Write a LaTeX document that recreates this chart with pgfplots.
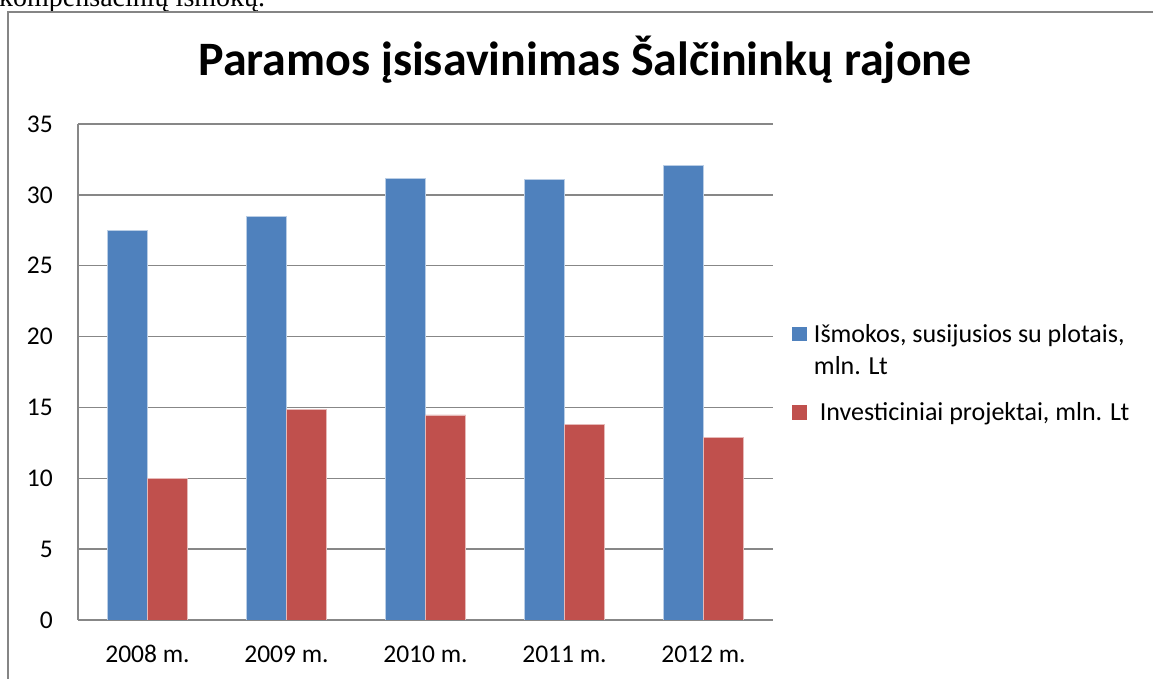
\documentclass[border=0pt]{standalone}
\usepackage{fontspec}
\setmainfont{Carlito}
\newfontfamily\timesf{Liberation Serif}
\usepackage{pgfplots}
\pgfplotsset{compat=1.18}
\definecolor{xblue}{HTML}{4F81BD}
\definecolor{xred}{HTML}{C0504D}
\definecolor{xblueedge}{HTML}{B9CDE5}
\definecolor{xrededge}{HTML}{E6B9B8}
\definecolor{xgrid}{HTML}{878787}
\definecolor{xframe}{HTML}{858585}
\begin{document}
\begin{tikzpicture}
\useasboundingbox (0,0) rectangle (1153pt,679pt);
\clip (0,0) rectangle (1153pt,679pt);
\node[anchor=base west, inner sep=0pt, font=\timesf\fontsize{28}{32}\selectfont] at (-1pt,672pt) {kompensacinių išmokų.};
\draw[xframe, line width=2pt] (8pt,-5pt) -- (8pt,667pt) -- (1160pt,667pt);
\node[anchor=base, inner sep=0pt, font=\bfseries\fontsize{48}{56}\selectfont] at (585pt,603pt) {Paramos įsisavinimas Šalčininkų rajone};
\begin{axis}[
  at={(78pt,59pt)}, anchor=south west,
  scale only axis, width=695pt, height=496pt,
  xmin=-0.5, xmax=4.5, ymin=0, ymax=35,
  ytick={0,5,...,35},
  xtick={0,1,2,3,4},
  xticklabels={2008 m.,2009 m.,2010 m.,2011 m.,2012 m.},
  ybar=0pt, bar width=40pt,
  axis x line*=bottom, axis y line*=left,
  axis line style={draw=xgrid, line width=1.3pt, -},
  major tick length=0pt,
  ymajorgrids, major grid style={draw=xgrid, line width=1.3pt},
  /pgf/number format/assume math mode=true,
  tick label style={font=\fontsize{25.5}{30}\selectfont, inner sep=0pt},
  yticklabel style={anchor=east, xshift=-25pt},
  xticklabel style={anchor=north, yshift=-26pt, text height=16pt, text depth=0pt},
  legend style={at={(1.0273,0.5967)}, anchor=north west, draw=none, fill=none,
    font=\fontsize{26}{32}\selectfont, inner sep=0pt,
    cells={anchor=base west},
    nodes={inner sep=0pt, align=left}, column sep=7.5pt, row sep=27pt},
]
\addplot[fill=xblue, draw=xblueedge, line width=0.8pt,
  legend image code/.code={\fill[xblue] (0pt,33.5pt) rectangle (13.5pt,47pt);}]
  coordinates {(0,27.47) (1,28.46) (2,31.17) (3,31.1) (4,32.1)};
\addplot[fill=xred, draw=xrededge, line width=0.8pt,
  legend image code/.code={\fill[xred] (0pt,1.5pt) rectangle (13.5pt,15pt);}]
  coordinates {(0,10.0) (1,14.87) (2,14.47) (3,13.83) (4,12.91)};
\legend{{Išmokos, susijusios su plotais,\\mln. Lt}, {\ Investiciniai projektai, mln. Lt}}
\end{axis}
\end{tikzpicture}
\end{document}
